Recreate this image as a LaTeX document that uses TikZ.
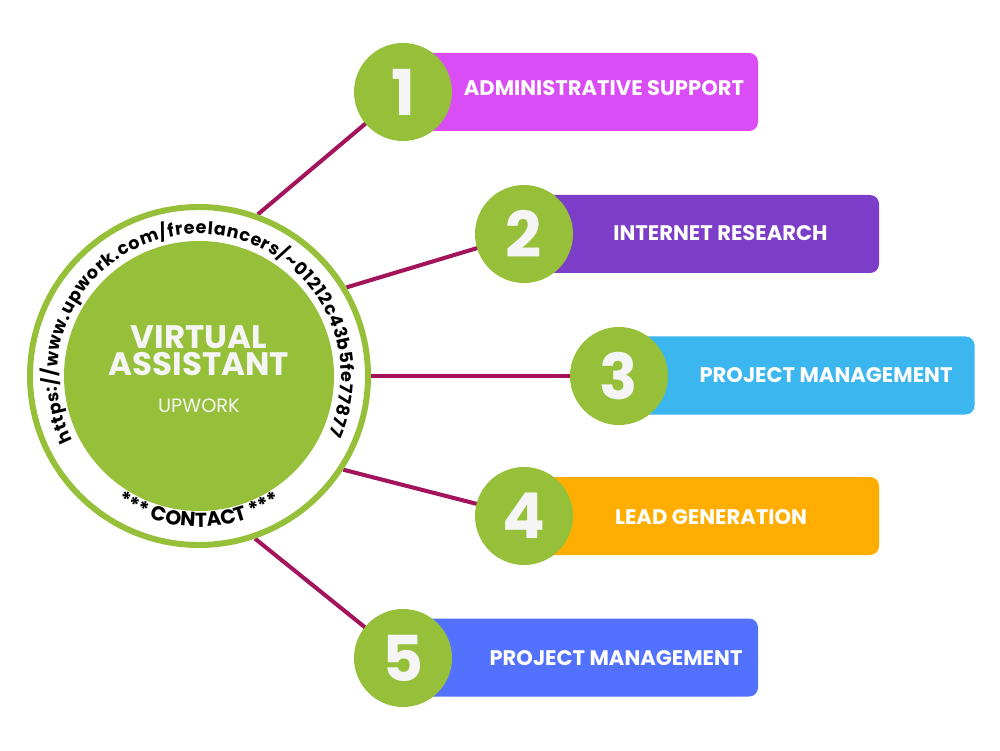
\documentclass[tikz,border=0pt]{standalone}
\usepackage{fontspec}
\setmainfont{Poppins}
\definecolor{vagreen}{RGB}{151,192,58}
\definecolor{valink}{RGB}{163,20,92}
\definecolor{vamagenta}{RGB}{217,76,246}
\definecolor{vapurple}{RGB}{124,62,200}
\definecolor{vasky}{RGB}{59,182,239}
\definecolor{vaorange}{RGB}{255,174,0}
\definecolor{vablue}{RGB}{82,113,255}
\definecolor{vawhite}{RGB}{245,245,245}
\usetikzlibrary{decorations.text,backgrounds}

\begin{document}
\begin{tikzpicture}[
  numcircle/.style={circle, fill=vagreen, minimum size=1.96cm, inner sep=0pt, font=\fontsize{36}{36}\selectfont\bfseries, text=vawhite},
  taskbox/.style={rounded corners=5pt, minimum width=7.1cm, minimum height=1.56cm},
  tasklabel/.style={font=\fontsize{12}{14}\selectfont\bfseries, text=white},
  link/.style={draw=valink, line width=2.3pt}
]
  \useasboundingbox (0,0) rectangle (20,15);

  %% Central circle
  \node[circle, draw=vagreen, line width=3.4pt, fill=white, minimum size=6.76cm, inner sep=0pt] (ring) at (3.98,7.48) {};
  \node[circle, fill=vagreen, minimum size=5.4cm, inner sep=0pt] (hub) at (3.98,7.48) {};
  \node[font=\fontsize{18.5}{15.6}\selectfont\bfseries, text=vawhite, align=center] (title) at (3.98,7.99) {VIRTUAL\\ASSISTANT};
  \node[font=\fontsize{11}{13}\selectfont, text=vawhite] (sub) at (3.98,6.88) {UPWORK};

  %% Text round the ring
  \path[decorate, decoration={text along path, text align=fit to path,
      text={|\fontsize{10}{12}\selectfont\bfseries|https://www.upwork.com/freelancers/{\textasciitilde}01212c43b5fe77877}}]
    (ring.center) ++(207:2.84) arc[start angle=207, end angle=-24, radius=2.84];
  \path[decorate, decoration={text along path, text align=center,
      text={|\fontsize{11.5}{13}\selectfont\bfseries|*** CONTACT ***}}]
    (ring.center) ++(232:3.02) arc[start angle=232, end angle=308, radius=3.02];

  %% Services
  \node[taskbox, fill=vamagenta] (box1) at (11.61,13.16) {};
  \node[numcircle] (num1) at (8.06,13.16) {1};
  \node[tasklabel] (lab1) at (12.08,13.24) {ADMINISTRATIVE SUPPORT};

  \node[taskbox, fill=vapurple] (box2) at (14.03,10.32) {};
  \node[numcircle] (num2) at (10.48,10.32) {2};
  \node[tasklabel] (lab2) at (14.41,10.34) {INTERNET RESEARCH};

  \node[taskbox, fill=vasky] (box3) at (15.94,7.49) {};
  \node[numcircle] (num3) at (12.38,7.48) {3};
  \node[tasklabel] (lab3) at (16.52,7.5) {PROJECT MANAGEMENT};

  \node[taskbox, fill=vaorange] (box4) at (14.03,4.68) {};
  \node[numcircle] (num4) at (10.48,4.68) {4};
  \node[tasklabel] (lab4) at (14.22,4.66) {LEAD GENERATION};

  \node[taskbox, fill=vablue] (box5) at (11.61,1.85) {};
  \node[numcircle] (num5) at (8.06,1.84) {5};
  \node[tasklabel] (lab5) at (12.32,1.84) {PROJECT MANAGEMENT};

  %% Connectors
  \begin{scope}[on background layer]
    \draw[link] (ring.70) -- (num1.center);
    \draw[link] (ring.31) -- (num2.center);
    \draw[link] (ring.0) -- (num3.center);
    \draw[link] (ring.-33) -- (num4.center);
    \draw[link] (ring.-71) -- (num5.center);
  \end{scope}
\end{tikzpicture}
\end{document}
